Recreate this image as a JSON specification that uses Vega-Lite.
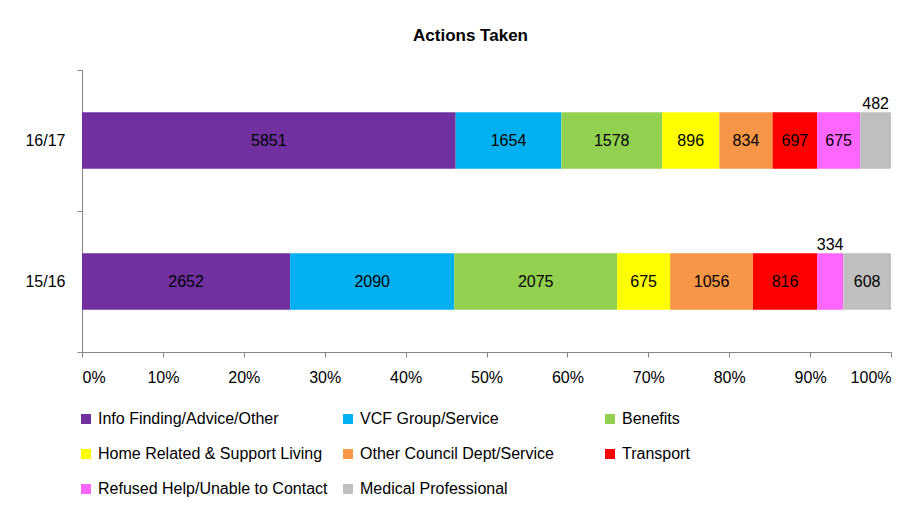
{
  "$schema": "https://vega.github.io/schema/vega-lite/v6.json",
  "autosize": {"type": "none"},
  "padding": {"left": 82, "top": 70, "right": 29, "bottom": 159},
  "width": 809,
  "height": 282,
  "background": "white",
  "title": {"text": "Actions Taken", "font": "Liberation Sans", "fontSize": 17, "fontWeight": "bold", "color": "#000000", "dx": -16, "offset": 17},
  "config": {
    "view": {"stroke": null},
    "font": "Liberation Sans"
  },
  "data": {
    "values": [
      {"year": "16/17", "category": "Info Finding/Advice/Other", "value": 5851},
      {"year": "16/17", "category": "VCF Group/Service", "value": 1654},
      {"year": "16/17", "category": "Benefits", "value": 1578},
      {"year": "16/17", "category": "Home Related & Support Living", "value": 896},
      {"year": "16/17", "category": "Other Council Dept/Service", "value": 834},
      {"year": "16/17", "category": "Transport", "value": 697},
      {"year": "16/17", "category": "Refused Help/Unable to Contact", "value": 675},
      {"year": "16/17", "category": "Medical Professional", "value": 482},
      {"year": "15/16", "category": "Info Finding/Advice/Other", "value": 2652},
      {"year": "15/16", "category": "VCF Group/Service", "value": 2090},
      {"year": "15/16", "category": "Benefits", "value": 2075},
      {"year": "15/16", "category": "Home Related & Support Living", "value": 675},
      {"year": "15/16", "category": "Other Council Dept/Service", "value": 1056},
      {"year": "15/16", "category": "Transport", "value": 816},
      {"year": "15/16", "category": "Refused Help/Unable to Contact", "value": 334},
      {"year": "15/16", "category": "Medical Professional", "value": 608}
    ]
  },
  "transform": [
    {"calculate": "indexof(['Info Finding/Advice/Other','VCF Group/Service','Benefits','Home Related & Support Living','Other Council Dept/Service','Transport','Refused Help/Unable to Contact','Medical Professional'], datum.category)", "as": "idx"},
    {"stack": "value", "groupby": ["year"], "offset": "normalize", "sort": [{"field": "idx", "order": "ascending"}], "as": ["x0", "x1"]},
    {"calculate": "(datum.x0 + datum.x1) / 2", "as": "mid"},
    {"calculate": "datum.x1 - datum.x0", "as": "share"}
  ],
  "encoding": {
    "y": {
      "field": "year", "type": "nominal", "sort": ["16/17", "15/16"], "title": null,
      "scale": {"paddingInner": 0, "paddingOuter": 0},
      "axis": {"domainColor": "#868686", "tickColor": "#868686", "tickSize": 5, "tickBand": "extent", "labelFont": "Liberation Sans", "labelFontSize": 16, "labelColor": "#000000", "labelPadding": 12}
    }
  },
  "layer": [
    {
      "mark": {"type": "bar", "height": {"band": 0.4}},
      "encoding": {
        "x": {
          "field": "x0", "type": "quantitative", "title": null,
          "scale": {"domain": [0, 1], "nice": false},
          "axis": {"format": ".0%", "values": [0, 0.1, 0.2, 0.3, 0.4, 0.5, 0.6, 0.7, 0.8, 0.9, 1], "grid": false, "domainColor": "#868686", "tickColor": "#868686", "tickSize": 5, "labelFont": "Liberation Sans", "labelFontSize": 16, "labelColor": "#000000", "labelPadding": 12}
        },
        "x2": {"field": "x1"},
        "color": {
          "field": "category", "type": "nominal",
          "scale": {
            "domain": ["Info Finding/Advice/Other", "VCF Group/Service", "Benefits", "Home Related & Support Living", "Other Council Dept/Service", "Transport", "Refused Help/Unable to Contact", "Medical Professional"],
            "range": ["#7030A0", "#00B0F0", "#92D050", "#FFFF00", "#F79646", "#FF0000", "#FF66FF", "#BFBFBF"]
          },
          "legend": {
            "title": null, "orient": "none", "legendX": -4, "legendY": 341, "direction": "horizontal", "columns": 3, "gridAlign": "all",
            "symbolType": "square", "symbolSize": 100, "symbolStrokeWidth": 0, "labelOffset": 4, "columnPadding": 12, "rowPadding": 19,
            "labelFont": "Liberation Sans", "labelFontSize": 16, "labelColor": "#000000", "labelLimit": 400, "padding": 0
          }
        }
      }
    },
    {
      "transform": [{"filter": "datum.share >= 0.045"}],
      "mark": {"type": "text", "font": "Liberation Sans", "fontSize": 16, "color": "#000000", "baseline": "middle"},
      "encoding": {
        "x": {"field": "mid", "type": "quantitative"},
        "text": {"field": "value", "type": "quantitative", "format": "d"}
      }
    },
    {
      "transform": [{"filter": "datum.share < 0.045"}],
      "mark": {"type": "text", "font": "Liberation Sans", "fontSize": 16, "color": "#000000", "baseline": "middle", "dy": -37},
      "encoding": {
        "x": {"field": "mid", "type": "quantitative"},
        "text": {"field": "value", "type": "quantitative", "format": "d"}
      }
    }
  ]
}
